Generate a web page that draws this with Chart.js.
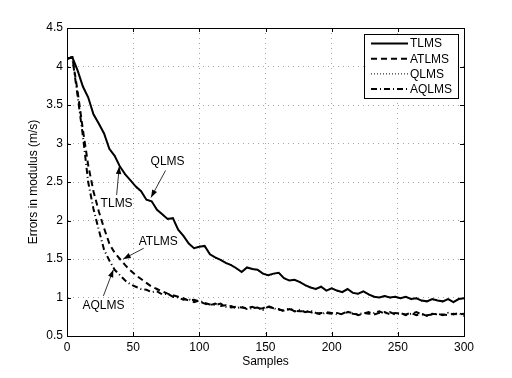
<!DOCTYPE html>
<html>
<head>
<meta charset="utf-8">
<script src="https://cdn.jsdelivr.net/npm/chart.js@4.4.0/dist/chart.umd.min.js"></script>
<style>
  html, body { margin: 0; padding: 0; background: #fff; }
  #wrap { width: 512px; height: 378px; }
</style>
</head>
<body>
<div id="wrap"><canvas id="errChart" width="512" height="378"></canvas></div>
<script>
// samples (x axis)
const samples = [0,4,8,12,16,20,24,28,32,36,40,44,48,52,56,60,64,68,72,76,80,84,88,92,96,100,
  104,108,112,116,120,124,128,132,136,140,144,148,152,156,160,164,168,172,176,180,184,188,192,196,200,
  204,208,212,216,220,224,228,232,236,240,244,248,252,256,260,264,268,272,276,280,284,288,292,296,300];

const tlms = [4.10,4.12,3.95,3.74,3.60,3.38,3.26,3.13,2.93,2.84,2.70,2.60,2.52,2.44,2.38,2.27,2.25,2.14,2.08,2.02,2.03,
  1.88,1.80,1.70,1.64,1.66,1.67,1.56,1.52,1.49,1.45,1.42,1.38,1.33,1.39,1.37,1.36,1.31,1.29,1.31,1.32,
  1.25,1.22,1.23,1.20,1.16,1.13,1.11,1.14,1.09,1.12,1.09,1.07,1.11,1.06,1.05,1.08,1.04,1.01,1.00,1.02,
  1.00,1.01,0.99,1.01,0.98,0.99,0.96,0.95,0.98,0.96,0.95,0.98,0.94,0.98,0.99];

const atlms = [4.10,4.12,3.68,3.18,2.72,2.38,2.12,1.90,1.70,1.58,1.50,1.42,1.35,1.29,1.24,1.19,1.14,1.11,1.08,1.05,1.03,
  1.01,0.99,0.96,0.97,0.95,0.92,0.90,0.92,0.89,0.90,0.87,0.88,0.87,0.86,0.88,0.85,0.86,0.89,0.86,0.85,
  0.82,0.85,0.83,0.82,0.82,0.81,0.79,0.80,0.80,0.79,0.80,0.78,0.81,0.80,0.77,0.79,0.81,0.78,0.80,0.81,
  0.78,0.80,0.79,0.78,0.80,0.77,0.79,0.76,0.79,0.78,0.78,0.77,0.79,0.78,0.79];

const qlms = [4.11,4.13,3.94,3.75,3.59,3.39,3.25,3.14,2.92,2.85,2.71,2.59,2.53,2.43,2.37,2.28,2.24,2.15,2.07,2.03,2.02,
  1.89,1.79,1.71,1.63,1.67,1.66,1.57,1.51,1.50,1.44,1.43,1.37,1.34,1.38,1.38,1.35,1.32,1.28,1.30,1.33,
  1.24,1.23,1.22,1.21,1.15,1.14,1.10,1.15,1.08,1.13,1.08,1.08,1.10,1.07,1.04,1.09,1.03,1.02,0.99,1.03,
  0.99,1.02,0.98,1.02,0.97,1.00,0.95,0.96,0.97,0.97,0.94,0.99,0.93,0.99,0.98];

const aqlms = [4.10,4.12,3.62,3.10,2.50,2.15,1.88,1.62,1.48,1.36,1.29,1.22,1.17,1.14,1.11,1.10,1.07,1.08,1.04,1.05,1.01,
  1.00,0.97,0.98,0.94,0.96,0.93,0.91,0.90,0.92,0.88,0.89,0.86,0.88,0.85,0.86,0.87,0.84,0.88,0.86,0.84,
  0.83,0.86,0.82,0.84,0.81,0.83,0.80,0.78,0.81,0.80,0.78,0.79,0.82,0.79,0.78,0.80,0.79,0.80,0.82,0.79,
  0.81,0.78,0.80,0.77,0.79,0.81,0.78,0.77,0.78,0.79,0.77,0.80,0.78,0.80,0.76];

const seriesNames = ["TLMS", "ATLMS", "QLMS", "AQLMS"];
const xTicks = [0, 50, 100, 150, 200, 250, 300];

// text labels with arrows, in data units: [text, textX, textY, fromX, fromY, tipX, tipY]
const notes = [
  ["QLMS", 76, 2.76, 74.5, 2.65, 63.5, 2.30],
  ["TLMS", 37.5, 2.22, 37.5, 2.33, 39.5, 2.70],
  ["ATLMS", 69, 1.72, 58, 1.64, 42.5, 1.50],
  ["AQLMS", 27.5, 0.90, 27.5, 1.02, 35, 1.36]
];

const FONT = "'Liberation Sans', Arial, Helvetica, sans-serif";
Chart.defaults.font.family = FONT;
Chart.defaults.font.size = 12;
Chart.defaults.color = "#000";

function pts(vals) {
  return samples.map((s, i) => ({ x: s, y: vals[i] }));
}

// box around plot, inward tick marks, legend and arrow labels
const decor = {
  id: "decor",
  afterDatasetsDraw(chart) {
    const c = chart.ctx;
    const a = chart.chartArea;
    const xs = chart.scales.x, ys = chart.scales.y;
    c.save();
    c.strokeStyle = "#000";
    c.lineWidth = 1;
    c.setLineDash([]);
    c.beginPath();
    xTicks.forEach(t => {
      const px = Math.round(xs.getPixelForValue(t)) + 0.5;
      c.moveTo(px, a.bottom); c.lineTo(px, a.bottom - 4);
      c.moveTo(px, a.top); c.lineTo(px, a.top + 4);
    });
    ys.ticks.forEach(t => {
      const py = Math.round(ys.getPixelForValue(t.value)) + 0.5;
      c.moveTo(a.left, py); c.lineTo(a.left + 4, py);
      c.moveTo(a.right, py); c.lineTo(a.right - 4, py);
    });
    c.stroke();
    c.strokeRect(Math.round(a.left) + 0.5, Math.round(a.top) + 0.5,
      Math.round(a.right - a.left), Math.round(a.bottom - a.top));

    // annotations
    c.font = "12px " + FONT;
    c.fillStyle = "#000";
    c.textAlign = "center";
    c.textBaseline = "middle";
    notes.forEach(n => {
      const tx = xs.getPixelForValue(n[1]), ty = ys.getPixelForValue(n[2]);
      const fx = xs.getPixelForValue(n[3]), fy = ys.getPixelForValue(n[4]);
      const hx = xs.getPixelForValue(n[5]), hy = ys.getPixelForValue(n[6]);
      c.fillText(n[0], tx, ty);
      c.beginPath();
      c.lineWidth = 0.8;
      c.moveTo(fx, fy); c.lineTo(hx, hy);
      c.stroke();
      const ang = Math.atan2(hy - fy, hx - fx);
      c.beginPath();
      c.moveTo(hx, hy);
      c.lineTo(hx - 8 * Math.cos(ang - 0.35), hy - 8 * Math.sin(ang - 0.35));
      c.lineTo(hx - 8 * Math.cos(ang + 0.35), hy - 8 * Math.sin(ang + 0.35));
      c.closePath();
      c.fill();
    });

    // legend box
    const lx = a.right - 100, ly = a.top + 6, lw = 94, lh = 64;
    c.fillStyle = "#fff";
    c.fillRect(lx, ly, lw, lh);
    c.lineWidth = 1;
    c.strokeRect(Math.round(lx) + 0.5, Math.round(ly) + 0.5, lw, lh);
    c.textAlign = "left";
    chart.data.datasets.forEach((d, i) => {
      const rowY = ly + 9.5 + i * 15.2;
      c.strokeStyle = d.borderColor;
      c.lineWidth = d.borderWidth;
      c.setLineDash(d.borderDash || []);
      c.beginPath();
      c.moveTo(lx + 7, rowY); c.lineTo(lx + 44, rowY);
      c.stroke();
      c.setLineDash([]);
      c.fillStyle = "#000";
      c.fillText(d.label, lx + 46, rowY + 0.5);
    });
    c.restore();
  }
};

const ctx = document.getElementById("errChart").getContext("2d");
const errChart = new Chart(ctx, {
  type: "line",
  data: {
    datasets: [
      { label: seriesNames[0], data: pts(tlms), borderColor: "#000", borderWidth: 2, borderDash: [], order: 2 },
      { label: seriesNames[1], data: pts(atlms), borderColor: "#000", borderWidth: 2, borderDash: [6, 4], order: 1 },
      { label: seriesNames[2], data: pts(qlms), borderColor: "#000", borderWidth: 1, borderDash: [1, 2], order: 0 },
      { label: seriesNames[3], data: pts(aqlms), borderColor: "#000", borderWidth: 2, borderDash: [6, 3, 1, 3], order: 0 }
    ]
  },
  options: {
    responsive: false,
    animation: false,
    events: [],
    elements: { point: { radius: 0 }, line: { tension: 0, fill: false } },
    layout: { padding: { left: 22, top: 28, right: 48, bottom: 6 } },
    plugins: { legend: { display: false }, tooltip: { enabled: false } },
    scales: {
      x: {
        type: "linear",
        min: 0, max: 300,
        afterBuildTicks: s => { s.ticks = xTicks.map(v => ({ value: v })); },
        afterFit: s => { s.height = 36; },
        ticks: { padding: 4, callback: v => String(v), maxRotation: 0 },
        grid: { color: "rgba(0,0,0,0.35)", drawTicks: false },
        border: { color: "#000", dash: [1, 4], display: true },
        title: { display: true, text: "Samples", padding: { top: 4, bottom: 3 } }
      },
      y: {
        min: 0.5, max: 4.5,
        ticks: { stepSize: 0.5, padding: 4, callback: v => String(v) },
        afterFit: s => { s.width = 45; },
        grid: { color: "rgba(0,0,0,0.35)", drawTicks: false },
        border: { color: "#000", dash: [1, 4] },
        title: { display: true, text: "Errors in modulus (m/s)", padding: { top: 4, bottom: 4 } }
      }
    }
  },
  plugins: [decor]
});
</script>
</body>
</html>
